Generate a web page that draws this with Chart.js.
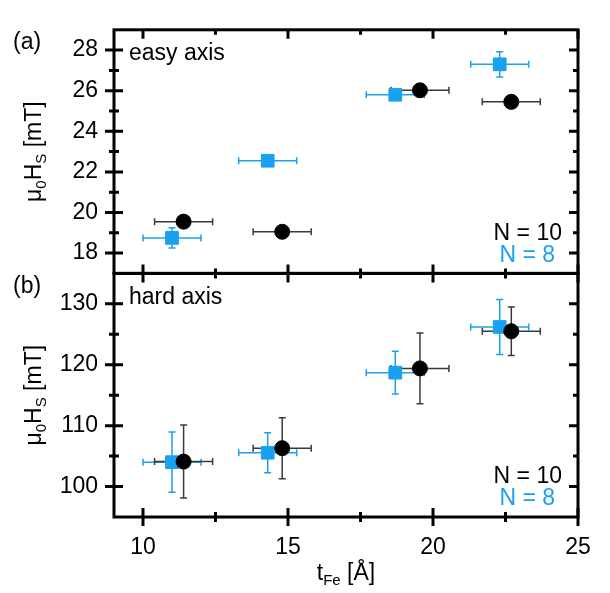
<!DOCTYPE html>
<html>
<head>
<meta charset="utf-8">
<script src="https://cdn.jsdelivr.net/npm/chart.js@4.4.1/dist/chart.umd.min.js"></script>
<style>
  html, body { margin: 0; padding: 0; background: #fff; }
  #wrap { width: 610px; height: 593px; position: relative; }
</style>
</head>
<body>
<div id="wrap"><canvas id="chart" width="610" height="593"></canvas></div>
<script>
// Fe thickness (Å) and its error, for the two sample sets
const tN10 = [11.4, 14.8, 19.55, 22.7];
const tN10Err = [1.0, 1.0, 1.0, 1.0];
const tN8 = [11.0, 14.3, 18.7, 22.3];
const tN8Err = [1.0, 1.0, 1.0, 1.0];

// (a) easy axis saturation field, mT
const easyN10 = [19.55, 19.05, 26.02, 25.45];
const easyN10Err = [0, 0, 0, 0];
const easyN8 = [18.75, 22.55, 25.8, 27.3];
const easyN8Err = [0.5, 0.25, 0.25, 0.62];

// (b) hard axis saturation field, mT
const hardN10 = [104.1, 106.3, 119.4, 125.5];
const hardN10Err = [6.0, 5.0, 5.8, 4.0];
const hardN8 = [104.0, 105.55, 118.7, 126.2];
const hardN8Err = [4.95, 3.3, 3.5, 4.5];

// tick labels
const xMajor = [10, 15, 20, 25];
const xMinor = [12.5, 17.5, 22.5];
const easyMajor = [18, 20, 22, 24, 26, 28];
const easyMinor = [19, 21, 23, 25, 27];
const hardMajor = [100, 110, 120, 130];
const hardMinor = [105, 115, 125];

const BLUE = 'rgb(26,160,240)';
const FONT = "'Liberation Sans', Arial, sans-serif";
const FS = 23;

function pts(xs, ys) {
    return xs.map((x, i) => ({ x: x, y: ys[i] }));
}

// draws error bars, frames, tick marks and labels
const panelPlugin = {
    id: 'panels',
    beforeDatasetsDraw(chart) {
        const ctx = chart.ctx;
        const xs = chart.scales.x;
        for (let i = chart.data.datasets.length - 1; i >= 0; i--) {
            const ds = chart.data.datasets[i];
            const ys = chart.scales[ds.yAxisID];
            ctx.save();
            ctx.strokeStyle = ds.errColor;
            ctx.lineWidth = 1.5;
            ds.data.forEach((p, j) => {
                const px = xs.getPixelForValue(p.x);
                const py = ys.getPixelForValue(p.y);
                const x0 = xs.getPixelForValue(p.x - ds.xErr[j]);
                const x1 = xs.getPixelForValue(p.x + ds.xErr[j]);
                ctx.beginPath();
                ctx.moveTo(x0, py); ctx.lineTo(x1, py);
                ctx.moveTo(x0, py - 3.5); ctx.lineTo(x0, py + 3.5);
                ctx.moveTo(x1, py - 3.5); ctx.lineTo(x1, py + 3.5);
                if (ds.yErr[j] > 0) {
                    const y0 = ys.getPixelForValue(p.y - ds.yErr[j]);
                    const y1 = ys.getPixelForValue(p.y + ds.yErr[j]);
                    ctx.moveTo(px, y0); ctx.lineTo(px, y1);
                    ctx.moveTo(px - 3.5, y0); ctx.lineTo(px + 3.5, y0);
                    ctx.moveTo(px - 3.5, y1); ctx.lineTo(px + 3.5, y1);
                }
                ctx.stroke();
            });
            ctx.restore();
        }
    },
    afterDraw(chart) {
        const ctx = chart.ctx;
        const xs = chart.scales.x;
        const area = chart.chartArea;
        const panels = [
            { s: chart.scales.yA, major: easyMajor, minor: easyMinor, tag: '(a)', name: 'easy axis' },
            { s: chart.scales.yB, major: hardMajor, minor: hardMinor, tag: '(b)', name: 'hard axis' }
        ];
        ctx.save();
        ctx.strokeStyle = '#000';
        ctx.lineWidth = 3;
        panels.forEach((p, k) => {
            const top = p.s.top, bot = p.s.bottom;
            const L = area.left, R = area.right;
            ctx.strokeRect(L, top, R - L, bot - top);
            ctx.beginPath();
            const yTick = (v, len) => {
                const y = p.s.getPixelForValue(v);
                ctx.moveTo(L - len, y); ctx.lineTo(L + len, y);
                ctx.moveTo(R - len, y); ctx.lineTo(R, y);
            };
            p.major.forEach(v => yTick(v, 9));
            p.minor.forEach(v => yTick(v, 5));
            const bottomAxis = bot >= area.bottom - 1;
            const xTick = (v, len) => {
                const x = xs.getPixelForValue(v);
                ctx.moveTo(x, top); ctx.lineTo(x, top + len);
                ctx.moveTo(x, bot - len); ctx.lineTo(x, bottomAxis ? bot + len : bot);
            };
            xMajor.forEach(v => xTick(v, 9));
            xMinor.forEach(v => xTick(v, 5));
            ctx.stroke();

            // panel texts
            ctx.font = FS + 'px ' + FONT;
            ctx.textBaseline = 'middle';
            ctx.fillStyle = '#000';
            ctx.textAlign = 'left';
            ctx.fillText(p.tag, 13, top + 13);
            ctx.fillText(p.name, L + 15, top + 24);
            ctx.textAlign = 'right';
            ctx.fillText('N = 10', R - 16, bot - 40);
            ctx.fillStyle = BLUE;
            ctx.fillText('N = 8', R - 23, bot - 18);

            // y title
            ctx.save();
            ctx.translate(41, (top + bot) / 2);
            ctx.rotate(-Math.PI / 2);
            drawRich(ctx, [['\u03bc', 0], ['0', 1], ['H', 0], ['S', 1], [' [mT]', 0]], 0, 0);
            ctx.restore();
        });
        // x title
        drawRich(ctx, [['t', 0], ['Fe', 1], [' [\u00c5]', 0]], (area.left + area.right) / 2, 580);
        ctx.restore();
    }
};

// text with subscripts, centred on x, baseline at y
function drawRich(ctx, parts, x, y) {
    ctx.save();
    ctx.fillStyle = '#000';
    ctx.textAlign = 'left';
    ctx.textBaseline = 'alphabetic';
    const fonts = [FS + 'px ' + FONT, '15px ' + FONT];
    let total = 0;
    parts.forEach(([t, sub]) => { ctx.font = fonts[sub]; total += ctx.measureText(t).width; });
    let cx = x - total / 2;
    parts.forEach(([t, sub]) => {
        ctx.font = fonts[sub];
        ctx.fillText(t, cx, y + (sub ? 5 : 0));
        cx += ctx.measureText(t).width;
    });
    ctx.restore();
}

function yScale(min, max, ticks) {
    return {
        type: 'linear',
        position: 'left',
        stack: 'panels',
        stackWeight: 1,
        min: min,
        max: max,
        grid: { display: false, drawTicks: false, tickLength: 0 },
        border: { display: false },
        afterBuildTicks: s => { s.ticks = ticks.map(v => ({ value: v })); },
        afterFit: s => { s.width = 114; },
        ticks: { padding: 16, autoSkip: false, color: '#000', font: { family: FONT, size: FS } }
    };
}

new Chart(document.getElementById('chart'), {
    type: 'scatter',
    data: {
        datasets: [
            { label: 'easy N = 10', data: pts(tN10, easyN10), xErr: tN10Err, yErr: easyN10Err, yAxisID: 'yA',
              pointStyle: 'circle', pointRadius: 7.5, backgroundColor: '#000', borderColor: '#000', errColor: '#3a3a3a' },
            { label: 'easy N = 8', data: pts(tN8, easyN8), xErr: tN8Err, yErr: easyN8Err, yAxisID: 'yA',
              pointStyle: 'rect', pointRadius: 9, backgroundColor: BLUE, borderColor: BLUE, errColor: BLUE },
            { label: 'hard N = 10', data: pts(tN10, hardN10), xErr: tN10Err, yErr: hardN10Err, yAxisID: 'yB',
              pointStyle: 'circle', pointRadius: 7.5, backgroundColor: '#000', borderColor: '#000', errColor: '#3a3a3a' },
            { label: 'hard N = 8', data: pts(tN8, hardN8), xErr: tN8Err, yErr: hardN8Err, yAxisID: 'yB',
              pointStyle: 'rect', pointRadius: 9, backgroundColor: BLUE, borderColor: BLUE, errColor: BLUE }
        ]
    },
    options: {
        responsive: false,
        animation: false,
        layout: { padding: { top: 6, right: 32, left: 0, bottom: 0 } },
        plugins: { legend: { display: false }, tooltip: { enabled: false } },
        elements: { point: { borderWidth: 1, hoverRadius: 0 } },
        scales: {
            x: {
                type: 'linear',
                position: 'bottom',
                min: 9,
                max: 25,
                grid: { display: false, drawTicks: false, tickLength: 0 },
                border: { display: false },
                afterBuildTicks: s => { s.ticks = xMajor.map(v => ({ value: v })); },
                afterFit: s => { s.height = 76; },
                ticks: { padding: 17, autoSkip: false, maxRotation: 0, color: '#000', font: { family: FONT, size: FS } }
            },
            // the stack is laid out bottom-up: hard axis panel first
            yB: yScale(95, 135, hardMajor),
            yA: yScale(17, 29, easyMajor)
        }
    },
    plugins: [panelPlugin]
});
</script>
</body>
</html>
